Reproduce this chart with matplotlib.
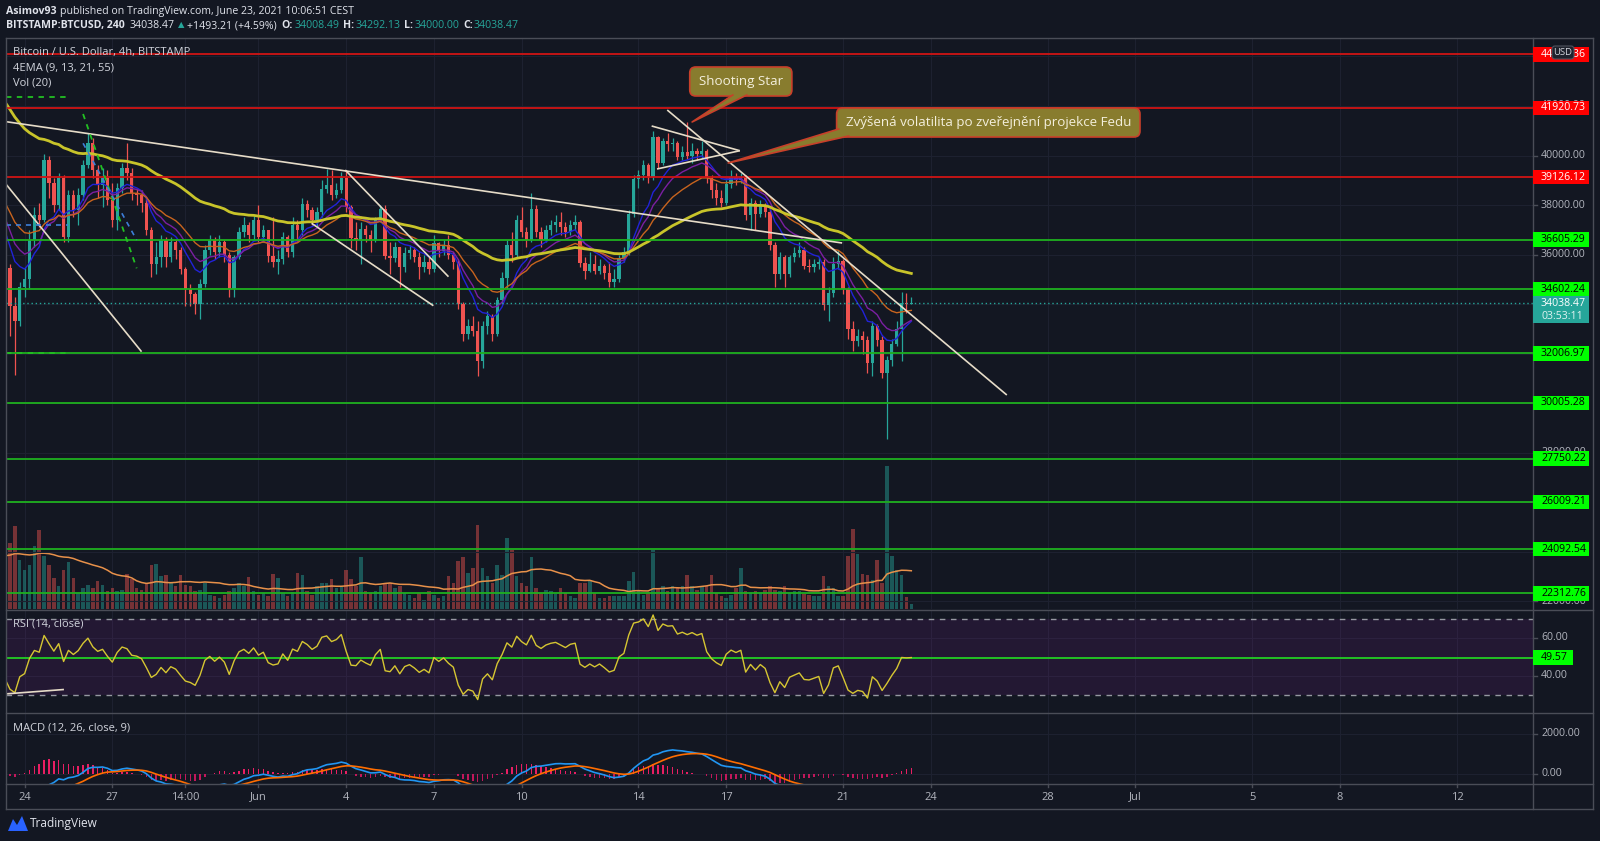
import matplotlib
matplotlib.use("Agg")
import matplotlib.pyplot as plt
from matplotlib.patches import Rectangle, FancyBboxPatch, Polygon
import numpy as np

W, H = 1600, 841
BG = "#131722"
FG = "#d1d4dc"
GRID = "#1d2130"
FRAME = "#4a4d57"
UP, DOWN = "#26a69a", "#ef5350"
plt.rcParams["font.family"] = ["Open Sans", "DejaVu Sans"]

# --- 4h candles, BITSTAMP:BTCUSD, May 23 08:00 -> Jun 23 08:00 ---
OPEN0 = 35900
CLOSE = [
    35450, 33900, 33300, 34700, 35000, 36600, 37600, 37400, 39800, 38900,
    38000, 39100, 36700, 38400, 37800, 38400, 39600, 40500, 39400, 38800,
    39100, 38200, 37400, 38700, 39500, 39300, 38500, 38400, 38100, 37000,
    35600, 35900, 36600, 35900, 36500, 36200, 35400, 34600, 34400, 34000,
    34800, 36200, 36600, 36100, 36500, 36000, 34600, 35900, 36900, 37200,
    36800, 37400, 36700, 37000, 35950, 35700, 35800, 36700, 36100, 37200,
    37000, 38050, 37800, 37400, 37700, 38650, 38800, 38400, 38600, 39100,
    37900, 36650, 36600, 37050, 36800, 36600, 37400, 37850, 35950, 35850,
    36300, 35500, 36050, 36200, 35900, 35500, 35700, 35400, 36450, 36150,
    36400, 36000, 35700, 34000, 32800, 33100, 32900, 31700, 33100, 33500,
    32800, 34150, 35050, 36400, 36000, 37400, 36900, 36600, 37850, 36900,
    36600, 37000, 37200, 37300, 37100, 36900, 37200, 37300, 35650, 35350,
    35600, 35350, 35550, 35250, 34900, 35000, 35850, 36100, 37650, 39050,
    39200, 39600, 39150, 40750, 39700, 40600, 40450, 40500, 39950, 40150,
    40000, 40200, 40050, 40200, 39100, 38600, 38300, 38100, 38850, 39150,
    39000, 39150, 37600, 38100, 37650, 38000, 37700, 36400, 35200, 35900,
    35200, 35900, 36050, 36200, 35550, 35500, 35600, 35700, 33950, 34450,
    35600, 35750, 34600, 33000, 32500, 32700, 32550, 31600, 33100, 32550,
    31200, 31750, 32400, 33000, 34050, 34008.49, 34038.47,
]
HIGH = [
    36300, 35600, 34300, 34900, 35500, 37000, 37900, 38100, 40050, 40000,
    39100, 39300, 39200, 38600, 38600, 38700, 39800, 40900, 40700, 39600,
    39500, 39400, 38900, 38900, 39700, 40500, 39500, 38700, 38600, 38300,
    37100, 36500, 36800, 36700, 36700, 36600, 36300, 35500, 34800, 34500,
    35000, 36400, 36800, 36700, 36800, 36600, 36100, 36000, 37100, 37500,
    37300, 37550, 38000, 37200, 37000, 37500, 36200, 36900, 36800, 37500,
    37400, 38300, 38200, 37900, 37900, 39000, 39450, 39400, 38900, 39350,
    39400, 38000, 37300, 37300, 37200, 37000, 37500, 38000, 38000, 36500,
    36500, 36200, 36300, 36400, 36300, 36100, 36000, 35900, 36800, 36500,
    36600, 36800, 36100, 35800, 34100, 33400, 33500, 33300, 33300, 33700,
    33600, 34300, 35300, 36600, 36900, 37600, 37900, 37100, 38500, 38000,
    37100, 37200, 37400, 37600, 37700, 37300, 37400, 37600, 37400, 35900,
    36100, 36000, 35800, 35600, 35700, 35400, 36000, 36300, 37800, 39200,
    39400, 39800, 39700, 41000, 40800, 40700, 40900, 40700, 40600, 40400,
    41370, 40500, 40300, 40600, 40250, 39200, 38900, 38600, 39000, 39400,
    39300, 39300, 39200, 38300, 38200, 38200, 38100, 37900, 36500, 36100,
    36000, 36000, 36300, 36500, 36300, 35800, 35800, 35900, 35800, 34700,
    35900, 36200, 35800, 34700, 33300, 33000, 32900, 32700, 33300, 33200,
    32700, 31900, 32600, 33300, 34500, 34450, 34292.13,
]
LOW = [
    35200, 32700, 31150, 33100, 34300, 34600, 36300, 37100, 37300, 38300,
    37700, 37800, 36500, 36500, 37500, 37200, 38200, 39500, 39100, 38300,
    37900, 38000, 37100, 37000, 38500, 39000, 38200, 38000, 37700, 36800,
    35100, 35200, 35500, 35500, 35700, 35800, 35200, 33900, 33900, 33600,
    33400, 34700, 36000, 35800, 35900, 35700, 34300, 34300, 35800, 36700,
    36500, 36600, 36500, 36500, 35700, 35500, 35200, 35600, 35900, 35900,
    36500, 36800, 37500, 37200, 37100, 37500, 38500, 38200, 38300, 38500,
    37700, 36250, 36200, 35600, 36500, 36100, 36500, 37300, 35800, 35200,
    35700, 34700, 35300, 35800, 35700, 35000, 35300, 35200, 35300, 35900,
    36000, 35800, 35400, 33800, 32500, 32600, 32700, 31100, 31400, 32800,
    32500, 32700, 34000, 34600, 35700, 35900, 36700, 36300, 36500, 36700,
    36300, 36500, 36800, 36900, 36800, 36700, 36800, 37000, 35500, 35000,
    35300, 35200, 35200, 35000, 34700, 34700, 34900, 35700, 36000, 37500,
    38700, 39000, 38900, 39000, 39500, 39600, 40200, 40200, 39800, 39800,
    39850, 39700, 39800, 39900, 38900, 38300, 38000, 37900, 38000, 38700,
    38800, 38900, 37400, 37000, 37000, 37500, 37500, 36200, 34700, 35000,
    34700, 35100, 35700, 35900, 35400, 35300, 35300, 35400, 33750, 33300,
    34300, 35400, 34400, 32600, 32100, 32300, 32000, 31200, 31100, 32300,
    31000, 28550, 31500, 32300, 31700, 33650, 34000,
]
VOLUME = [
    1360, 1650, 2070, 1230, 980, 1110, 1570, 1970, 1320, 1110,
    775, 565, 965, 1165, 775, 400, 525, 610, 525, 690,
    610, 440, 525, 440, 485, 885, 750, 525, 485, 650,
    1110, 1135, 835, 860, 650, 565, 860, 610, 565, 440,
    485, 650, 360, 315, 275, 360, 440, 525, 650, 565,
    800, 440, 360, 400, 315, 885, 775, 400, 315, 415,
    900, 860, 440, 360, 565, 650, 650, 750, 525, 565,
    985, 750, 565, 1300, 440, 400, 440, 565, 650, 650,
    525, 565, 400, 360, 275, 400, 235, 440, 360, 275,
    315, 835, 650, 1190, 1300, 900, 1025, 2110, 1025, 815,
    650, 1110, 860, 1775, 1485, 815, 650, 565, 1300, 525,
    400, 485, 440, 385, 525, 400, 315, 275, 650, 650,
    735, 400, 275, 275, 315, 335, 315, 315, 690, 925,
    485, 360, 415, 1485, 525, 565, 440, 565, 525, 565,
    860, 565, 485, 565, 585, 860, 400, 315, 275, 360,
    525, 1025, 440, 400, 440, 400, 485, 585, 485, 440,
    565, 400, 440, 440, 385, 360, 315, 335, 815, 565,
    525, 315, 315, 1335, 2000, 1385, 885, 860, 735, 1235,
    650, 3585, 1315, 985, 860, 300, 120,
]
# indicator state at the bar before the first visible one
EMA_SPANS = [9, 13, 21, 55]
EMA_SEEDS = [37300, 37800, 38350, 42400]
EMA_COLORS = ["#2222d8", "#7b1fa2", "#c8641e", "#c8c42a"]
MACD_SEEDS = (36800, 38700, -1800)     # ema12, ema26, signal
RSI_SEEDS = (300, 450)                 # avg gain, avg loss
PRE_VOL = 1330

# horizontal levels drawn on the chart
RED_LEVELS = [44086.36, 41920.73, 39126.12]
GREEN_LEVELS = [36605.29, 34602.24, 32006.97, 30005.28, 27750.22, 26009.21, 24092.54, 22312.76]
LAST_PRICE = 34038.47
COUNTDOWN = "03:53:11"
RSI_LEVEL = 49.57

# drawings (candle index, price)
TRENDLINES = [
    ((0.2, 41366), (171.8, 36465)),
    ((0.2, 38836), (28.0, 32074)),
    ((69.8, 39414), (91.0, 35104)),
    ((62.9, 37261), (87.9, 33932)),
    ((132.7, 41192), (150.8, 40194)),
    ((133.8, 39455), (150.8, 40194)),
    ((135.9, 41838), (205.6, 30324)),
]
GREEN_DASHED = [((0.2, 42376), (12.9, 42376)), ((0.2, 32006.97), (12.9, 32006.97)),
                ((16.0, 41677), (27.0, 35443))]
BLUE_DASHED = [((0.2, 37192), (12.9, 37192)), ((16.0, 40493), (27.0, 36586))]
RSI_LINE = ((0.1, 30.4), (11.9, 32.7))

# callouts: text, box centre, tip (candle index, price)
CALLOUTS = [
    ("Shooting Star", (151.0, 42990), (141.0, 41353)),
    ("Zvýšená volatilita po zveřejnění projekce Fedu", (201.8, 41333), (148.4, 39697)),
]

DATE_POS = [4, 22, 37, 52, 70, 88, 106, 130, 148, 172, 190, 214, 232, 256, 274, 298]
DATE_LBL = ["24", "27", "14:00", "Jun", "4", "7", "10", "14", "17", "21", "24", "28", "Jul", "5", "8", "12"]
PRICE_TICKS = list(range(22000, 44001, 2000))

XLIM = (0.18, 313.6)
PLOT_L, PLOT_R = 6, 1533
MAIN_Y = (38, 609)
RSI_Y = (610, 713)
MACD_Y = (713, 784)


def ema(values, span, seed):
    a = 2.0 / (span + 1)
    out, prev = [], seed
    for v in values:
        prev = prev + a * (v - prev)
        out.append(prev)
    return np.array(out)


def rsi(opens, closes, gain0, loss0, n=14):
    ag, al, out = gain0, loss0, []
    prev = opens[0]
    for c in closes:
        ch = c - prev
        ag = (ag * (n - 1) + max(ch, 0)) / n
        al = (al * (n - 1) + max(-ch, 0)) / n
        out.append(100 - 100 / (1 + ag / al))
        prev = c
    return np.array(out)


close = np.array(CLOSE, float)
opens = np.concatenate([[OPEN0], close[:-1]])
high = np.maximum(np.array(HIGH, float), np.maximum(opens, close))
low = np.minimum(np.array(LOW, float), np.minimum(opens, close))
vol = np.array(VOLUME, float)
idx = np.arange(len(close))
up = close >= opens

fig = plt.figure(figsize=(W / 100, H / 100), dpi=100, facecolor=BG)


def add_px_axes(y0, y1, z=1):
    a = fig.add_axes([PLOT_L / W, 1 - y1 / H, (PLOT_R - PLOT_L) / W, (y1 - y0) / H])
    a.set_zorder(z)
    a.set_xlim(*XLIM)
    a.set_xticks([]); a.set_yticks([])
    for s in a.spines.values():
        s.set_visible(False)
    return a


# volume underneath, price on top
axv = add_px_axes(*MAIN_Y, z=1)
axv.set_facecolor(BG)
axv.set_ylim(0, (MAIN_Y[1] - MAIN_Y[0]) * 25)
ax = add_px_axes(*MAIN_Y, z=2)
ax.patch.set_visible(False)
ytop = 40000 + (155.5 - MAIN_Y[0]) * 40.4
ybot = 40000 - (MAIN_Y[1] - 155.5) * 40.4
ax.set_ylim(ybot, ytop)
axr = add_px_axes(*RSI_Y, z=1)
axr.set_facecolor(BG)
axr.set_ylim(20.3, 74.8)
axm = add_px_axes(*MACD_Y, z=1)
axm.set_facecolor(BG)
axm.set_ylim(-500, 3050)

for a in (axv, axr, axm):
    for p in DATE_POS:
        a.axvline(p, color=GRID, lw=0.8, zorder=0)
for p in PRICE_TICKS:
    ax.axhline(p, color=GRID, lw=0.8, zorder=0)
for p in (60, 40):
    axr.axhline(p, color=GRID, lw=0.8, zorder=0)
for p in (2000, 0):
    axm.axhline(p, color=GRID, lw=0.8, zorder=0)

# volume + MA(20)
axv.bar(idx, vol, width=0.72, color=np.where(up, UP, DOWN), alpha=0.45, zorder=2, linewidth=0)
padded = np.concatenate([np.full(19, PRE_VOL), vol])
vma = np.convolve(padded, np.ones(20) / 20, mode="valid")
axv.plot(idx, vma, color="#e8914a", lw=1.1, zorder=3)

# candles
cols = np.where(up, UP, DOWN)
ax.vlines(idx, low, high, colors=cols, lw=0.9, zorder=3)
body_lo = np.minimum(opens, close)
body_h = np.maximum(np.abs(close - opens), 40)
ax.bar(idx, body_h, bottom=body_lo, width=0.68, color=cols, linewidth=0, zorder=4)

# EMAs
for span, seed, col in zip(EMA_SPANS, EMA_SEEDS, EMA_COLORS):
    ax.plot(idx, ema(close, span, seed), color=col, lw=2.0 if span == 55 else 1.0, zorder=5)

# horizontal levels
for p in RED_LEVELS:
    ax.axhline(p, color="#d01414", lw=1.3, zorder=6)
for p in GREEN_LEVELS:
    ax.axhline(p, color="#1fb01f", lw=1.3, zorder=6)
ax.axhline(LAST_PRICE, color=UP, lw=1, ls=(0, (1, 2)), zorder=6)

for (x0, y0), (x1, y1) in TRENDLINES:
    ax.plot([x0, x1], [y0, y1], color="#e6dcc8", lw=1.2, zorder=7, solid_capstyle="butt")
for (x0, y0), (x1, y1) in GREEN_DASHED:
    ax.plot([x0, x1], [y0, y1], color="#22c022", lw=1.3, ls=(0, (3, 3)), zorder=7)
for (x0, y0), (x1, y1) in BLUE_DASHED:
    ax.plot([x0, x1], [y0, y1], color="#3d7fd8", lw=1.2, ls=(0, (3, 3)), zorder=7)

# RSI
axr.axhspan(30, 70, color="#9c27b0", alpha=0.12, lw=0, zorder=0)
for p in (70, 30):
    axr.axhline(p, color="#9598a1", lw=1, ls=(0, (4, 4)), zorder=1)
axr.plot(idx, rsi(opens, close, *RSI_SEEDS), color="#d6c632", lw=1.0, zorder=3)
axr.axhline(RSI_LEVEL, color="#22dd22", lw=1.2, zorder=2)
axr.plot([RSI_LINE[0][0], RSI_LINE[1][0]], [RSI_LINE[0][1], RSI_LINE[1][1]], color="#e6dcc8", lw=1.2, zorder=4)

# MACD
e12 = ema(close, 12, MACD_SEEDS[0])
e26 = ema(close, 26, MACD_SEEDS[1])
macd = e12 - e26
sig = ema(macd, 9, MACD_SEEDS[2])
hist = macd - sig
axm.bar(idx, hist, width=0.3, color=np.where(hist >= 0, "#e91e63", "#c2185b"), linewidth=0, zorder=2)
axm.plot(idx, macd, color="#2196f3", lw=1.2, zorder=3)
axm.plot(idx, sig, color="#ff6d00", lw=1.2, zorder=3)

# ---- pixel overlay for chrome ----
ov = fig.add_axes([0, 0, 1, 1])
ov.set_zorder(10)
ov.set_xlim(0, W); ov.set_ylim(H, 0)
ov.axis("off")
to_px = ov.transData.inverted()
renderer = fig.canvas.get_renderer()


def px(a, x, y):
    return to_px.transform(a.transData.transform((x, y)))


def text_right(t):
    return t.get_window_extent(renderer).transformed(to_px).x1


# frame
for xs, ys in [((PLOT_L, 1593), (38, 38)), ((PLOT_L, 1593), (809, 809)),
               ((PLOT_L, PLOT_L), (38, 809)), ((1593, 1593), (38, 809)),
               ((PLOT_R, PLOT_R), (38, 809)), ((PLOT_L, 1593), (609.5, 609.5)),
               ((PLOT_L, 1593), (713, 713)), ((PLOT_L, 1593), (784, 784))]:
    ov.plot(xs, ys, color=FRAME, lw=1)

TXT = dict(color="#b2b5be", fontsize=7.6, va="center")
for p in PRICE_TICKS:
    y = px(ax, 0, p)[1]
    ov.plot([PLOT_R, PLOT_R + 4], [y, y], color=FRAME, lw=1)
    ov.text(1541, y, f"{p:.2f}", **TXT)
for a, vals in ((axr, (60, 40)), (axm, (2000, 0))):
    for v in vals:
        y = px(a, 0, v)[1]
        ov.plot([PLOT_R, PLOT_R + 4], [y, y], color=FRAME, lw=1)
        ov.text(1541, y, f"{v:.2f}", **TXT)


def price_box(y, text, fc, tc, w=56, h=14.5):
    ov.add_patch(Rectangle((PLOT_R, y - h / 2), w, h, fc=fc, ec="none", zorder=3))
    ov.text(PLOT_R + 8, y, text, color=tc, fontsize=7.6, va="center", zorder=4)


for p in RED_LEVELS:
    price_box(px(ax, 0, p)[1], f"{p:.2f}", "#ff0000", "white")
for p in GREEN_LEVELS:
    price_box(px(ax, 0, p)[1], f"{p:.2f}", "#00ff00", "black")
yl = px(ax, 0, LAST_PRICE)[1]
ov.add_patch(Rectangle((PLOT_R, yl - 7), 56, 27, fc="#26a69a", ec="none", zorder=3))
ov.text(PLOT_R + 8, yl, f"{LAST_PRICE:.2f}", color="white", fontsize=7.6, va="center", zorder=4)
ov.text(PLOT_R + 8, yl + 13.5, COUNTDOWN, color="#e0f2f1", fontsize=7.6, va="center", zorder=4)
price_box(px(axr, 0, RSI_LEVEL)[1], f"{RSI_LEVEL:.2f}", "#00ff00", "black", w=40)
ov.add_patch(FancyBboxPatch((1552, 46), 22, 13, boxstyle="round,pad=0,rounding_size=3",
                            fc="#1e222d", ec="#50535e", lw=0.8, zorder=5))
ov.text(1563, 52.5, "USD", color=FG, fontsize=6.8, ha="center", va="center", zorder=6)

# dates
for p, lbl in zip(DATE_POS, DATE_LBL):
    x = px(axm, p, 0)[0]
    ov.plot([x, x], [784, 787], color=FRAME, lw=1)
    ov.text(x, 797, lbl, color="#b2b5be", fontsize=8, ha="center", va="center")

# legends
ov.text(13, 52.7, "Bitcoin / U.S. Dollar, 4h, BITSTAMP", color=FG, fontsize=8, va="center")
ov.text(13, 68.3, "4EMA (9, 13, 21, 55)", color=FG, fontsize=8, va="center")
ov.text(13, 83.3, "Vol (20)", color=FG, fontsize=8, va="center")
ov.text(13, 624, "RSI (14, close)", color=FG, fontsize=8, va="center")
ov.text(13, 728, "MACD (12, 26, close, 9)", color=FG, fontsize=8, va="center")

# header, pieces chained left to right
WHITE, TEAL = "#e0e3eb", "#26a69a"
HEADER = [
    [("Asimov93", True, WHITE, 3), ("published on TradingView.com, June 23, 2021 10:06:51 CEST", False, WHITE, 0)],
    [("BITSTAMP:BTCUSD, 240", True, WHITE, 5), ("34038.47", False, WHITE, 3), ("▲", False, TEAL, 3),
     ("+1493.21 (+4.59%)", False, WHITE, 5), ("O:", True, WHITE, 1), ("34008.49", False, TEAL, 4),
     ("H:", True, WHITE, 1), ("34292.13", False, TEAL, 4), ("L:", True, WHITE, 1),
     ("34000.00", False, TEAL, 4), ("C:", True, WHITE, 1), ("34038.47", False, TEAL, 0)],
]
for y, pieces in zip((11.3, 25.7), HEADER):
    x = 6
    for s, bold, col, gap in pieces:
        t = ov.text(x, y, s, fontsize=7.6 if s != "▲" else 6, va="center", color=col,
                    fontweight="bold" if bold else "normal")
        x = text_right(t) + gap

# callouts
OLIVE, EDGE = "#887c2e", "#c8402a"
for text, (bx, by), (tx, ty) in CALLOUTS:
    cx, cy = px(ax, bx, by)
    tipx, tipy = px(ax, tx, ty)
    t = ov.text(cx, cy, text, color="#f3efdc", fontsize=9.6, ha="center", va="center", zorder=9)
    bb = t.get_window_extent(renderer).transformed(to_px)
    w = abs(bb.x1 - bb.x0) + 18
    h = 29
    ov.add_patch(FancyBboxPatch((cx - w / 2, cy - h / 2), w, h, boxstyle="round,pad=0,rounding_size=6",
                                fc=OLIVE, ec=EDGE, lw=1.2, zorder=6))
    if tx < bx - 30:
        base = [(cx - w / 2 + 2, cy + h / 2 - 8), (cx - w / 2 + 12, cy + h / 2 - 1)]
    else:
        base = [(cx - 8, cy + h / 2 - 1), (cx + 6, cy + h / 2 - 1)]
    ov.add_patch(Polygon([base[0], (tipx, tipy), base[1]], closed=True, fc=OLIVE, ec="none", zorder=7))
    ov.plot([base[0][0], tipx, base[1][0]], [base[0][1], tipy, base[1][1]], color=EDGE, lw=1.2, zorder=8)

# footer logo
ov.add_patch(Polygon([(8, 831), (13, 819), (17, 825), (22, 816), (28, 831)], closed=True, fc="#2962ff", ec="none"))
ov.text(30, 823.5, "TradingView", color=WHITE, fontsize=8.6, va="center")

fig.savefig("out.png", dpi=100, facecolor=BG)
